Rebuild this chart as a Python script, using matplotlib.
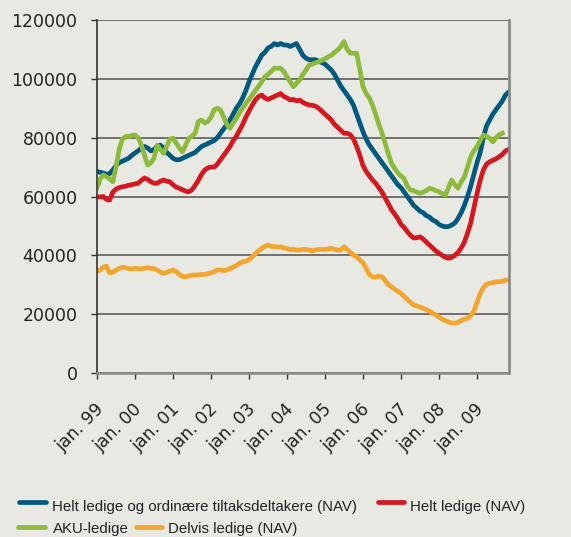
import matplotlib
matplotlib.use('Agg')
import matplotlib.pyplot as plt
from matplotlib.lines import Line2D
import matplotlib.transforms as mtransforms
import numpy as np

# ---------------- data (monthly, from jan. 1999) ----------------
tick_labels = ["jan. 99", "jan. 00", "jan. 01", "jan. 02", "jan. 03", "jan. 04",
               "jan. 05", "jan. 06", "jan. 07", "jan. 08", "jan. 09"]

series_names = ["Helt ledige og ordinære tiltaksdeltakere (NAV)", "Helt ledige (NAV)",
                "AKU-ledige", "Delvis ledige (NAV)"]

helt_tiltak = [
    68500, 68200, 68000, 67500, 67800, 69000, 70500, 71500, 72000, 72500, 73000, 74000,
    74800, 75500, 76500, 77000, 76500, 75500, 76000, 77000, 77500, 76500, 75000, 74000,
    73000, 72500, 72500, 73000, 73500, 74000, 74500, 75000, 76000, 77000, 77500, 78000,
    78500, 79000, 80000, 81500, 83000, 84500, 86000, 88000, 90000, 91500, 93500, 96000,
    99000, 101500, 104000, 106000, 108000, 109000, 110500, 111000, 112000, 111500, 112000, 111500,
    111500, 111000, 111500, 112000, 110000, 108000, 107000, 106500, 106500, 106500, 106000, 105500,
    105000, 104000, 103000, 101500, 99500, 97500, 96000, 94500, 93000, 91000, 88000, 85000,
    82000, 79500, 77500, 76000, 74500, 73000, 71500, 70000, 68500, 67000, 65500, 64000,
    63000, 61500, 60000, 58500, 57000, 56000, 55000, 54500, 53500, 53000, 52000, 51500,
    50500, 50000, 49700, 49800, 50300, 51000, 52500, 54500, 57000, 60000, 63500, 67500,
    71500, 75000, 80000, 84000, 86000, 88000, 89500, 91000, 92500, 94500, 95500]

helt_ledige = [
    60000, 59800, 60000, 59000, 58800, 61500, 62500, 63000, 63300, 63500, 63800, 64000,
    64300, 64500, 65500, 66300, 65800, 65000, 64500, 64500, 65200, 65600, 65200, 65000,
    64000, 63200, 62800, 62300, 61800, 61600, 62300, 63800, 65500, 67500, 69000, 69700,
    70000, 70000, 71000, 72500, 74000, 75500, 77000, 79000, 80500, 82500, 84500, 87000,
    89000, 91000, 92800, 94000, 94500, 93500, 93000, 93500, 94000, 94500, 95000, 94000,
    93500, 92800, 93000, 92500, 92800, 92000, 91500, 91100, 91000, 90700, 90000, 89000,
    88000, 87000, 86000, 84500, 83500, 82500, 81500, 81500, 81000, 79500, 77000, 74000,
    70500, 68500, 67000, 65600, 64500, 63000, 61500, 59500, 57500, 55500, 54000, 52500,
    50500, 49500, 48000, 46800, 45900, 46000, 46300, 45500, 44500, 43500, 42500, 41500,
    40700, 40000, 39300, 39000, 39300, 40000, 41000, 42500, 44500, 47500, 51000, 56000,
    61000, 65500, 69000, 71000, 71800, 72300, 72800, 73500, 74300, 75500, 76000]

aku_ledige = [
    63000, 66000, 67300, 66700, 66000, 65000, 70000, 76000, 79500, 80300, 80500, 80700,
    80900, 80000, 77500, 74000, 70700, 71500, 73000, 77500, 76000, 74700, 77000, 79500,
    79800, 78200, 76500, 75200, 77500, 79800, 80500, 81500, 85500, 86000, 85000, 85500,
    87000, 89500, 90000, 89400, 87000, 84500, 83200, 85000, 86600, 88500, 90000, 91700,
    93000, 94500, 96000, 97500, 99000, 100700, 101500, 102500, 103600, 103600, 103600, 102500,
    100700, 99000, 97300, 98500, 99600, 101500, 103000, 104700, 105000, 105500, 105800, 106300,
    106800, 107500, 108000, 109000, 109800, 111000, 112600, 110000, 108700, 108700, 108700, 103000,
    97300, 95000, 93500, 91000, 88000, 84500, 81500, 78000, 74500, 71300, 69500, 68000,
    67000, 66000, 63500, 62200, 62000, 61500, 61100, 61500, 62000, 62800, 62500, 62000,
    61600, 61000, 60500, 63000, 65600, 64000, 62800, 65000, 66700, 70000, 73500, 75500,
    77000, 79000, 80900, 80500, 79800, 78600, 80000, 81000, 81500]

delvis_ledige = [
    34500, 35000, 36000, 36300, 34000, 34300, 35000, 35500, 36000, 35800, 35500, 35300,
    35600, 35500, 35400, 35600, 35800, 35600, 35500, 35000, 34300, 33900, 34200, 34700,
    35000, 34500, 33500, 32800, 32700, 33000, 33300, 33300, 33300, 33500, 33500, 33800,
    34000, 34500, 35000, 35000, 34800, 35000, 35500, 36000, 36500, 37300, 37800, 38000,
    38500, 39500, 40500, 41500, 42400, 43000, 43500, 43000, 43000, 42800, 42900, 42500,
    42300, 42000, 42000, 41800, 41800, 42000, 42000, 41800, 41500, 41800, 42000, 42000,
    42000, 42200, 42400, 42000, 41800, 41800, 42900, 42000, 41000, 40100, 39500, 38500,
    37500, 35500, 33500, 32700, 32500, 33000, 32700, 31500, 30000, 29300, 28500, 27800,
    27100, 26000, 25000, 24000, 23100, 22800, 22400, 22000, 21500, 21000, 20300, 19700,
    19000, 18300, 17800, 17300, 17000, 16900, 17200, 17800, 18300, 18600, 19500, 21000,
    24000, 27000, 29000, 30200, 30500, 30700, 31000, 31000, 31200, 31600, 31600]

colors = ["#00597F", "#D5171F", "#8DBA3C", "#F3A52E"]

# ---------------- figure ----------------
W, H = 571, 537
BG = "#E9E9E4"
fig = plt.figure(figsize=(W / 100, H / 100), dpi=100, facecolor=BG)
ax = fig.add_axes([97 / W, 1 - 373 / H, (509 - 97) / W, (373 - 20) / H])
ax.set_facecolor(BG)

all_series = [helt_tiltak, helt_ledige, aku_ledige, delvis_ledige]
for vals, col in zip(all_series, colors):
    ax.plot(np.arange(len(vals)), vals, color=col, lw=3.4, solid_joinstyle='round')

ax.set_xlim(0, 130.1)
ax.set_ylim(0, 120000)
ax.set_yticks(np.arange(0, 120001, 20000))
ax.set_yticklabels([str(v) for v in range(0, 120001, 20000)])
ax.set_xticks(np.arange(0, 12 * len(tick_labels), 12))
ax.set_xticklabels(tick_labels)

ax.grid(axis='y', color='#505050', lw=1.1)
ax.set_axisbelow(True)
ax.spines['top'].set_visible(False)
ax.spines['left'].set_color('#333333')
ax.spines['left'].set_linewidth(1.2)
ax.spines['bottom'].set_color('#8a8a8a')
ax.spines['bottom'].set_linewidth(1.8)
ax.spines['right'].set_color('#8a8a8a')
ax.spines['right'].set_linewidth(2.0)

ax.tick_params(axis='y', length=4.5, width=1, color='#333333', pad=9.5,
               labelsize=12.5, labelcolor='#222222')
ax.tick_params(axis='x', length=4.5, width=1, color='#333333', pad=15,
               labelsize=12.5, labelcolor='#222222')
offset = mtransforms.ScaledTranslation(-2 / 100, 0, fig.dpi_scale_trans)
for lab in ax.get_xticklabels():
    lab.set_rotation(45)
    lab.set_ha('right')
    lab.set_va('top')
    lab.set_rotation_mode('anchor')
    lab.set_transform(lab.get_transform() + offset)

# ---------------- legend (manual, flowing layout) ----------------
leg_font = ['Liberation Sans', 'DejaVu Sans']
entries = [  # handle x0, x1, handle y, text x, text baseline y
    (19, 45.5, 502, 52, 511.5),
    (378, 404, 502, 409.5, 511.5),
    (18.5, 45, 527, 52.5, 532.5),
    (135.5, 161.5, 527, 168.5, 532.5),
]
for (x0, x1, y, tx, ty), col, name in zip(entries, colors, series_names):
    fig.add_artist(Line2D([x0 / W, x1 / W], [1 - y / H, 1 - y / H], transform=fig.transFigure,
                          color=col, lw=3.4, solid_capstyle='round'))
    fig.text(tx / W, 1 - ty / H, name, fontsize=10.8, family=leg_font,
             color='#222222', ha='left', va='baseline')

fig.savefig('out.png', dpi=100, facecolor=BG)
